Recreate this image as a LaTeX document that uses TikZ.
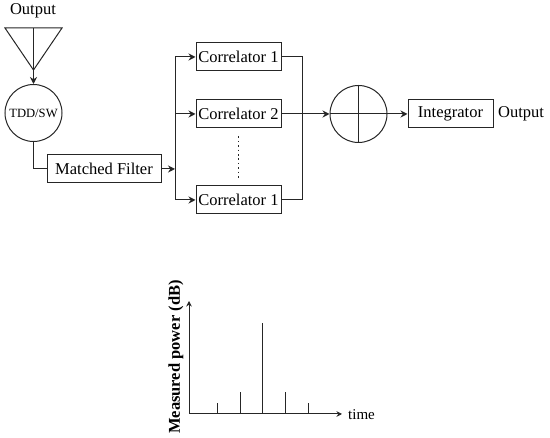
\documentclass[tikz,border=0pt]{standalone}
\usepackage{fontspec}
\setmainfont{Liberation Serif}
\usetikzlibrary{arrows.meta,positioning}

\begin{document}
\begin{tikzpicture}[
  x=1pt, y=1pt,
  every node/.style={font=\fontsize{16.5}{19}\selectfont},
  wire/.style={line width=1pt, black!85},
  arrow/.style={wire, -{Stealth[length=7pt, width=7pt]}},
  blockbox/.style={draw, wire, text=black, inner sep=0pt, minimum height=28pt, align=center},
  roundbox/.style={draw, wire, text=black, circle, inner sep=0pt, minimum size=57pt},
]
  \useasboundingbox (0,0) rectangle (550,-438);

  % Antenna
  \node (antlabel) at (33,-11) {Output};
  \coordinate (antl) at (5,-28);
  \coordinate (antr) at (62,-28);
  \coordinate (antc) at (33.5,-28);
  \coordinate (antp) at (33.5,-70);
  \draw[wire] (antl) -- (antr) -- (antp) -- cycle;
  \node[roundbox, font=\fontsize{12.6}{15}\selectfont] (sw) at (33.5,-113) {TDD/SW};

  % Filter
  \node[blockbox, minimum width=114pt] (mf) at (104,-169) {Matched Filter};

  % Correlators
  \node[blockbox, minimum width=85pt] (corr1) at (238.5,-57) {Correlator 1};
  \node[blockbox, minimum width=85pt, below=28pt of corr1] (corr2) {Correlator 2};
  \node[blockbox, minimum width=85pt, below=57pt of corr2] (corrn) {Correlator 1};
  \draw[wire, dash pattern=on 1.6pt off 2.8pt, line width=1.4pt] ([yshift=-8pt]corr2.south) -- ([yshift=7pt]corrn.north);

  % Sum and integrator
  \node[roundbox, right=48pt of corr2] (sum) {};
  \node[blockbox, minimum width=85pt, right=20pt of sum] (integ) {Integrator};
  \node[right=4.5pt of integ, inner sep=0pt] (outlabel) {Output};
  \draw[wire] (sum.north) -- (sum.south);

  % Junctions
  \coordinate (split) at (175,-169);
  \coordinate (merge) at (302,-113);

  % Arrows
  \draw[arrow] (antc) -- (sw.north);
  \draw[wire] (sw.south) |- (mf.west);
  \draw[arrow] (mf.east) -- (split);
  \draw[arrow] (split) |- (corr1.west);
  \draw[arrow] (split) |- (corr2.west);
  \draw[arrow] (split) |- (corrn.west);
  \draw[wire] (corr1.east) -| (merge);
  \draw[wire] (corrn.east) -| (merge);
  \draw[arrow] (corr2.east) -- (sum.west);
  \draw[arrow] (sum.west) -- (integ.west);

  % Measured power plot
  \coordinate (origin) at (189,-414);
  \coordinate (ytop) at (189,-301);
  \coordinate (xend) at (342,-414);
  \draw[arrow, -{Stealth[length=5.5pt, width=5.5pt]}] (origin) -- (ytop);
  \draw[arrow, -{Stealth[length=5.5pt, width=5.5pt]}] (origin) -- (xend);
  \node[right=6pt of xend, yshift=-1pt, inner sep=0pt, font=\fontsize{15}{17}\selectfont] (timelabel) {time};
  \node[rotate=90, font=\fontsize{16.5}{19}\selectfont\bfseries] (ylabel) at (176,-357) {Measured power (dB)};
  \draw[wire] (217,-414) -- ++(0,11);
  \draw[wire] (240,-414) -- ++(0,22);
  \draw[wire] (262.5,-414) -- ++(0,91);
  \draw[wire] (285,-414) -- ++(0,22);
  \draw[wire] (308,-414) -- ++(0,11);
\end{tikzpicture}
\end{document}
